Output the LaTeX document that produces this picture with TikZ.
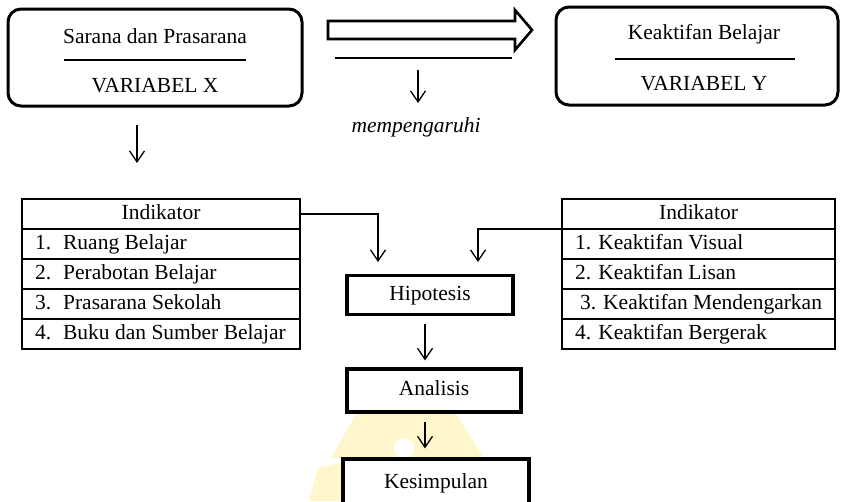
\documentclass[tikz,border=0pt]{standalone}
\usepackage{fontspec}
\setmainfont{Liberation Serif}
\usetikzlibrary{arrows.meta,positioning}
\definecolor{logoyellow}{RGB}{255,246,204}

\begin{document}
\begin{tikzpicture}[x=1pt, y=-1pt, font=\fontsize{21.5}{26}\selectfont,
  varbox/.style={draw, line width=3pt, rounded corners=13pt},
  cell/.style={draw, line width=1.2pt, outer sep=0pt, text width=#1, inner xsep=13pt, inner ysep=0pt,
    minimum height=30pt, text height=15pt, text depth=4pt, align=flush left},
  stepbox/.style={draw, line width=3.2pt, fill=white, inner sep=0pt, text height=14pt, text depth=4pt},
  arr/.style={line width=1.3pt, -{Straight Barb[length=11pt,width=15pt]}}]
\useasboundingbox (0,0) rectangle (842,501);

% Watermark
\fill[logoyellow] (356,414) -- (456,414) -- (484,458) -- (331,458) -- cycle;
\fill[logoyellow] (309,501) -- (318,468) -- (343,462) -- (343,501) -- cycle;
\fill[white] (404,448) circle (10);

% Variabel X
\node[varbox, minimum width=294pt, minimum height=97pt] (varx) at (155,57.5) {};
\node[anchor=base] (xname) at (155,43) {Sarana dan Prasarana};
\draw[line width=1.2pt] (64,60) -- (246,60);
\node[anchor=base] (xlabel) at (155,92) {VARIABEL X};

% Variabel Y
\node[varbox, minimum width=282pt, minimum height=98pt] (vary) at (697,56) {};
\node[anchor=base] (yname) at (704,39) {Keaktifan Belajar};
\draw[line width=1.2pt] (615,59) -- (795,59);
\node[anchor=base] (ylabel) at (704,90) {VARIABEL Y};

% Influence arrow
\draw[line width=2.6pt, line join=miter] (328,21) -- (515,21) -- (515,10) -- (532,30) -- (515,50) -- (515,39) -- (328,39) -- cycle;
\draw[line width=1.2pt] (335,58) -- (512,58);
\coordinate (infl) at (418,70);
\draw[arr] (infl) -- ++(0,33);
\node[anchor=base] (mempeng) at (416,132) {\textit{mempengaruhi}};

\coordinate (xdown) at (137,125);
\draw[arr] (xdown) -- ++(0,38);

% Indikator X
\node[cell=252pt, align=center] (lhead) at (161,214) {Indikator};
\node[cell=252pt, below=0pt of lhead] (lrow1) {1.\hspace{12pt}Ruang Belajar};
\node[cell=252pt, below=0pt of lrow1] (lrow2) {2.\hspace{12pt}Perabotan Belajar};
\node[cell=252pt, below=0pt of lrow2] (lrow3) {3.\hspace{12pt}Prasarana Sekolah};
\node[cell=252pt, below=0pt of lrow3] (lrow4) {4.\hspace{12pt}Buku dan Sumber Belajar};

% Indikator Y
\node[cell=247pt, align=center] (rhead) at (698.5,214) {Indikator};
\node[cell=247pt, below=0pt of rhead] (rrow1) {1. Keaktifan Visual};
\node[cell=247pt, below=0pt of rrow1] (rrow2) {2. Keaktifan Lisan};
\node[cell=247pt, below=0pt of rrow2] (rrow3) {\hspace{5pt}3. Keaktifan Mendengarkan};
\node[cell=247pt, below=0pt of rrow3] (rrow4) {4. Keaktifan Bergerak};

% Flow
\node[stepbox, minimum width=166pt, minimum height=39pt] (hipo) at (430,295) {Hipotesis};
\node[stepbox, minimum width=174pt, minimum height=43pt] (anal) at (434,390.5) {Analisis};
\node[stepbox, minimum width=186pt, minimum height=48pt] (kesim) at (436,483) {Kesimpulan};

\coordinate (hipoL) at (378,262);
\coordinate (hipoR) at (478,262);
\draw[arr] (lhead.east) -| (hipoL);
\draw[arr] (rhead.south west) -| (hipoR);
\draw[arr] ([xshift=-5pt,yshift=-8pt]hipo.south) -- ([xshift=-9pt,yshift=7pt]anal.north);
\draw[arr] ([xshift=-9pt,yshift=-8pt]anal.south) -- ([xshift=-11pt,yshift=9pt]kesim.north);
\end{tikzpicture}
\end{document}
